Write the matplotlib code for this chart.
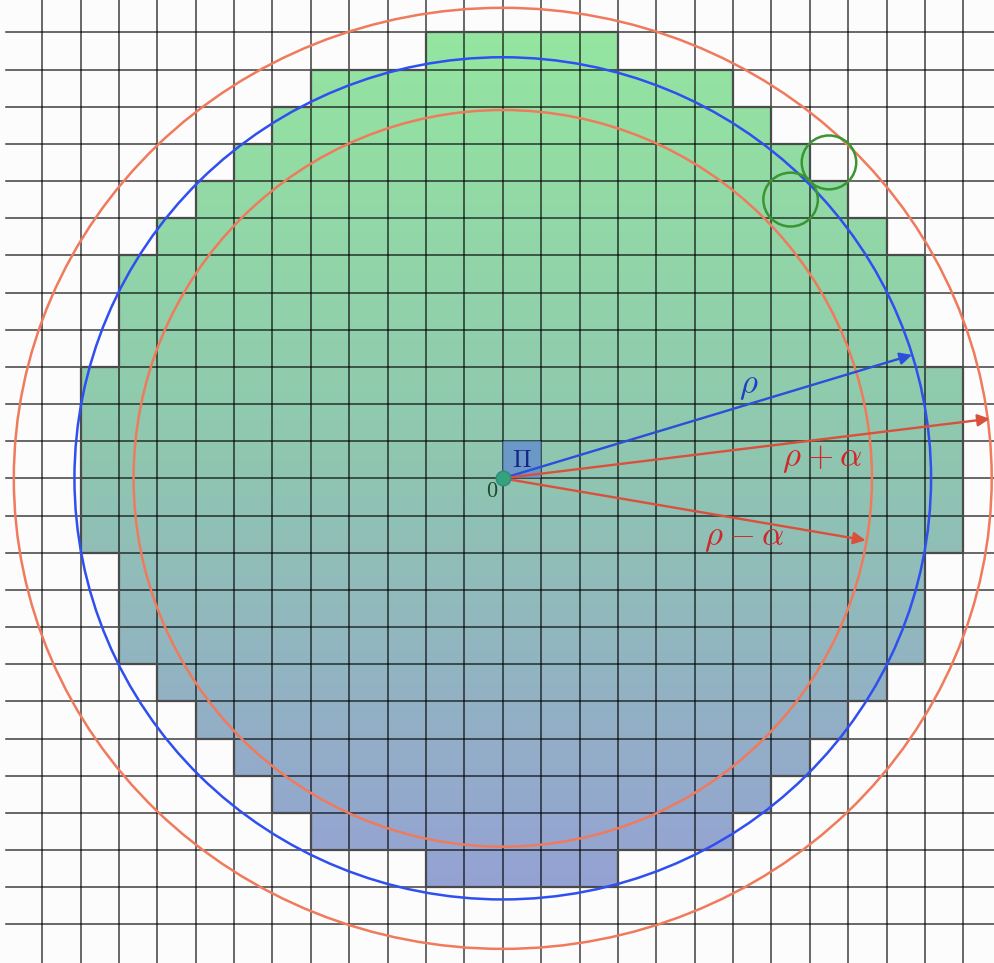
import numpy as np
import matplotlib
matplotlib.use("Agg")
import matplotlib.pyplot as plt
from matplotlib.patches import Ellipse, Rectangle, Polygon
from matplotlib.colors import LinearSegmentedColormap

plt.rcParams['mathtext.fontset'] = 'cm'

# data
rho = 11.25
grid_ticks = list(range(-12, 13))
circle_names = ['rho - alpha', 'rho', 'rho + alpha']
circle_rx = [9.62, 11.16, 12.74]
circle_ry = [9.91, 11.33, 12.66]
circle_colors = ['#f07a5c', '#2f4ff0', '#f07a5c']

arrow_labels = [r'$\rho$', r'$\rho+\alpha$', r'$\rho-\alpha$']
arrow_len = [11.17, 12.79, 9.60]
arrow_deg = [17.3, 7.2, -10.0]
arrow_colors = ['#2a4fd8', '#d9503c', '#d9503c']
label_xy = [(6.4, 2.5), (8.32, 0.55), (6.29, -1.58)]
label_colors = ['#1f3fc8', '#d02828', '#d02828']

check_centers = [(7.5, 7.5), (8.5, 8.5)]
check_r = 0.71

fig = plt.figure(figsize=(9.94, 9.63), dpi=100)
fig.patch.set_facecolor('#fcfcfc')
ax = fig.add_axes([0, 0, 1, 1])
ax.set_facecolor('#fcfcfc')
ax.set_xlim(-13.10, 12.80)
ax.set_ylim(-13.04, 12.87)
ax.axis('off')

# cells whose lower-left corner lies inside the disc
rows = [j for j in range(-12, 13) if j * j <= rho ** 2]
m = {j: int(np.floor(np.sqrt(rho ** 2 - j * j))) for j in rows}
right = []
left = []
for j in rows:
    right += [(m[j] + 1, j), (m[j] + 1, j + 1)]
    left += [(-m[j], j), (-m[j], j + 1)]
outline = right + left[::-1]
poly = Polygon(outline, closed=True, facecolor='none', edgecolor='#4a4a4a',
               lw=1.6, zorder=4)

# gradient fill
cmap = LinearSegmentedColormap.from_list('g', ['#95a2d4', '#8fc6b0', '#94e6a0'])
grad = np.linspace(0, 1, 256).reshape(-1, 1)
im = ax.imshow(grad, cmap=cmap, origin='lower', aspect='auto',
               extent=(-12, 13, rows[0], rows[-1] + 1), zorder=1)
clip = Polygon(outline, closed=True, transform=ax.transData)
im.set_clip_path(clip)
ax.add_patch(poly)

# grid
for t in grid_ticks:
    ax.plot([t, t], [-13.04, 12.87], color='black', lw=1.1, alpha=0.75, zorder=2)
    ax.plot([-12.95, 12.80], [t, t], color='black', lw=1.1, alpha=0.75, zorder=2)

# pixel at origin
ax.add_patch(Rectangle((0, 0), 1, 1, facecolor='#5f8ad0', alpha=0.75,
                       edgecolor='none', zorder=3))
ax.text(0.5, 0.5, r'$\Pi$', color='#16258a', fontsize=18,
        ha='center', va='center', zorder=6)
ax.text(-0.28, -0.34, r'$0$', color='#1d4a2a', fontsize=16,
        ha='center', va='center', zorder=6)

# circles
for rx, ry, c in zip(circle_rx, circle_ry, circle_colors):
    ax.add_patch(Ellipse((0, 0), 2 * rx, 2 * ry, fill=False, edgecolor=c,
                         lw=1.8, zorder=5))

for cx, cy in check_centers:
    ax.add_patch(Ellipse((cx, cy), 2 * check_r, 2 * check_r * 1.02, fill=False,
                         edgecolor='#3a9632', lw=1.8, zorder=5))

# arrows
for L, d, c in zip(arrow_len, arrow_deg, arrow_colors):
    a = np.radians(d)
    ax.annotate('', xy=(L * np.cos(a), L * np.sin(a)), xytext=(0, 0),
                arrowprops=dict(arrowstyle='-|>', color=c, lw=1.7,
                                mutation_scale=18, shrinkA=0, shrinkB=0),
                zorder=6)

for lab, (x, y), c in zip(arrow_labels, label_xy, label_colors):
    ax.text(x, y, lab, color=c, fontsize=25, ha='center', va='center', zorder=6)

ax.scatter([0], [0], s=110, color='#35a27a', edgecolor='#2c8a88', lw=1,
           zorder=7)

fig.savefig('out.png', dpi=100, facecolor=fig.get_facecolor())
